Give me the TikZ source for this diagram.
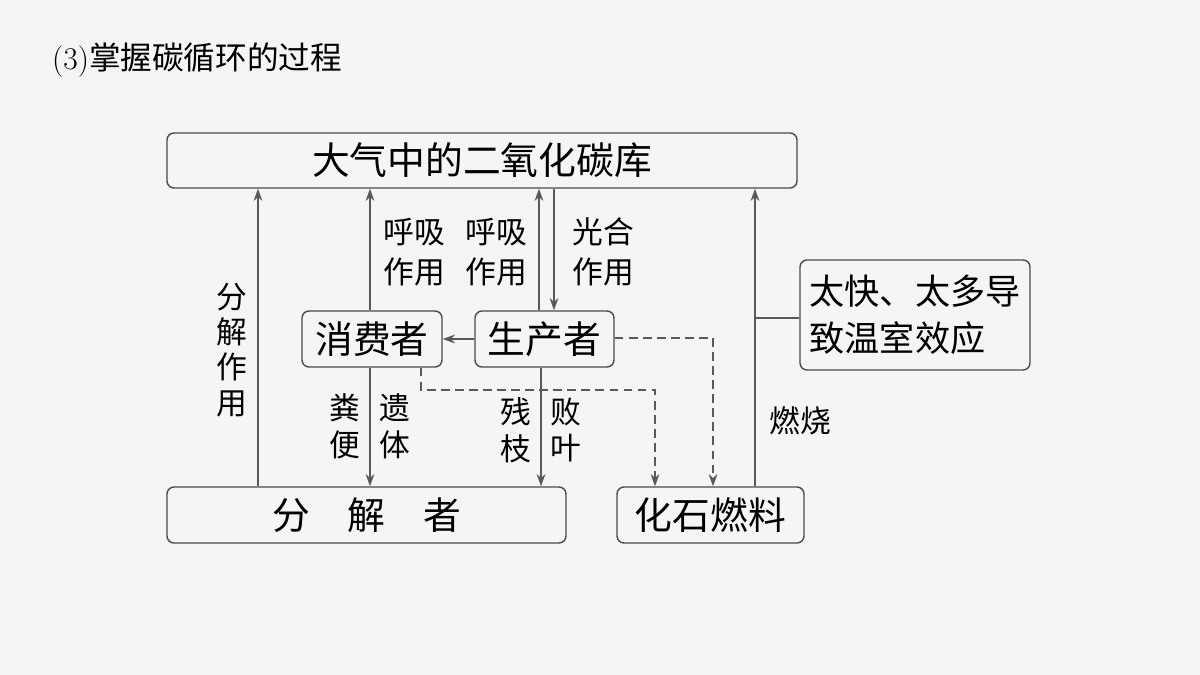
\documentclass[tikz,border=0pt]{standalone}
\usepackage{fontspec}
\newfontfamily\cjk{Noto Sans CJK SC}[Scale=1]
\usetikzlibrary{arrows.meta}
\begin{document}
\begin{tikzpicture}[x=0.02cm,y=-0.02cm,
  box/.style={draw=black!70,line width=0.8pt,rounded corners=4pt,inner sep=0pt,font=\cjk\fontsize{21.5pt}{24pt}\selectfont},
  ln/.style={draw=black!65,line width=0.8pt},
  arr/.style={ln,-{Stealth[length=7pt,width=5pt]}},
  dsh/.style={arr,dashed,dash pattern=on 5pt off 3pt},
  lbl/.style={font=\cjk\fontsize{17.5pt}{23pt}\selectfont,align=center,inner sep=0pt}]
\fill[black!4] (0,0) rectangle (1200,675);
\useasboundingbox (0,0) rectangle (1200,675);
\node[anchor=west,font=\fontsize{18pt}{20pt}\selectfont] (title) at (46,60) {(3)\cjk 掌握碳循环的过程};
\node[box,minimum width=630*0.02cm,minimum height=55*0.02cm] (atm) at (482,160.5) {大气中的二氧化碳库};
\node[box,minimum width=140*0.02cm,minimum height=56*0.02cm] (con) at (372,339) {消费者};
\node[box,minimum width=139*0.02cm,minimum height=56*0.02cm] (pro) at (544.5,339) {生产者};
\node[box,minimum width=399*0.02cm,minimum height=56*0.02cm] (dec) at (366.5,515) {分\quad 解\quad 者};
\node[box,minimum width=187*0.02cm,minimum height=56*0.02cm] (fos) at (710.5,515) {化石燃料};
\node[box,minimum width=230*0.02cm,minimum height=110*0.02cm,align=left,font=\cjk\fontsize{20pt}{27pt}\selectfont] (eff) at (915,315) {太快、太多导\\致温室效应};
% arrows
\draw[arr] (dec.north -| 258,0) -- (atm.south -| 258,0);
\draw[arr] (con.north -| 370,0) -- (atm.south -| 370,0);
\draw[arr] (pro.north -| 539,0) -- (atm.south -| 539,0);
\draw[arr] (atm.south -| 554,0) -- (pro.north -| 554,0);
\draw[arr] (pro.west) -- (con.east);
\draw[arr] (con.south -| 370,0) -- (dec.north -| 370,0);
\draw[arr] (pro.south -| 541,0) -- (dec.north -| 541,0);
\draw[arr] (fos.north -| 755,0) -- (atm.south -| 755,0);
\coordinate (j) at (755,318);
\draw[ln] (j) -- (eff.west |- j);
\coordinate (c1) at (421,390);
\coordinate (c2) at (655,390);
\draw[dsh] (con.south -| c1) -- (c1) -- (c2) -- (fos.north -| c2);
\coordinate (p1) at (713,338);
\draw[dsh] (pro.east |- p1) -- (p1) -- (fos.north -| p1);
% labels
\node[lbl,font=\cjk\fontsize{17.5pt}{20pt}\selectfont] (l1) at (232,350) {分\\解\\作\\用};
\node[lbl] (l2) at (414,252) {呼吸\\作用};
\node[lbl] (l3) at (496,252) {呼吸\\作用};
\node[lbl] (l4) at (603,252) {光合\\作用};
\node[lbl,font=\cjk\fontsize{17.5pt}{21pt}\selectfont] (l5) at (345,426) {粪\\便};
\node[lbl,font=\cjk\fontsize{17.5pt}{21pt}\selectfont] (l6) at (395,426) {遗\\体};
\node[lbl,font=\cjk\fontsize{17.5pt}{21pt}\selectfont] (l7) at (516,430) {残\\枝};
\node[lbl,font=\cjk\fontsize{17.5pt}{21pt}\selectfont] (l8) at (566,430) {败\\叶};
\node[lbl] (l9) at (800,421) {燃烧};
\end{tikzpicture}
\end{document}
